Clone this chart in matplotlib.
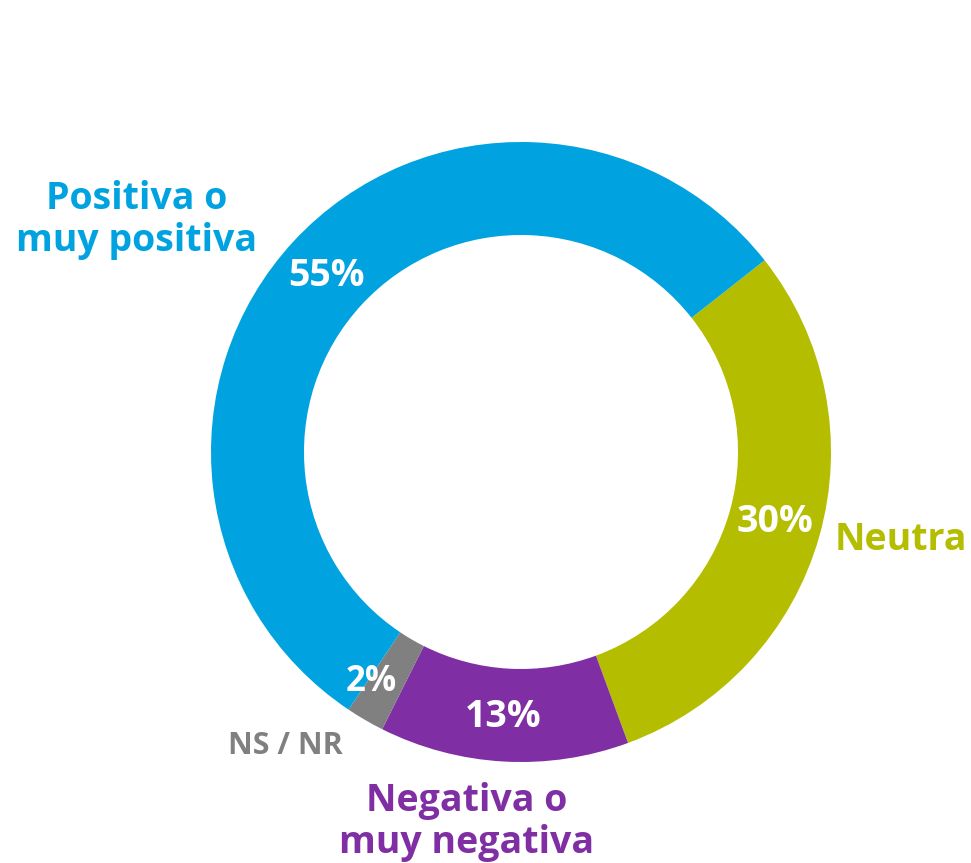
import matplotlib.pyplot as plt

# Data
categories = ['Neutra', 'Negativa o\nmuy negativa', 'NS / NR', 'Positiva o\nmuy positiva']
values = [30, 13, 2, 55]
colors = ['#B5BD00', '#7F2EA3', '#808080', '#00A3E0']

plt.rcParams['font.family'] = ['Open Sans', 'DejaVu Sans']

fig = plt.figure(figsize=(9.71, 8.63), dpi=100)
ax = fig.add_axes([0, 0, 1, 1])

H = 863
cx, cy, R = 521, H - 452, 310
ax.pie(values, colors=colors, startangle=38.2, counterclock=False,
       center=(cx, cy), radius=R, wedgeprops=dict(width=93, linewidth=0),
       frame=True)
ax.set_xlim(0, 971)
ax.set_ylim(0, H)
ax.set_aspect('equal')
ax.axis('off')

# percent labels (pixel positions from top-left)
pct_pos = [(775, 522), (503, 717), (371, 682), (326, 276)]
pct_sizes = [27, 27, 25, 27]
for v, (x, y), fs in zip(values, pct_pos, pct_sizes):
    ax.text(x, H - y, f'{v}%', color='white', fontsize=fs, fontweight='bold',
            ha='center', va='center')

# category labels
lab_pos = [(901, 540), (467, 822), (285, 746), (137, 220)]
sizes = [27, 27, 22, 27]
for c, col, (x, y), fs in zip(categories, colors, lab_pos, sizes):
    ax.text(x, H - y, c, color=col, fontsize=fs, fontweight='bold',
            ha='center', va='center', linespacing=1.15)

fig.savefig('out.png', dpi=100)
